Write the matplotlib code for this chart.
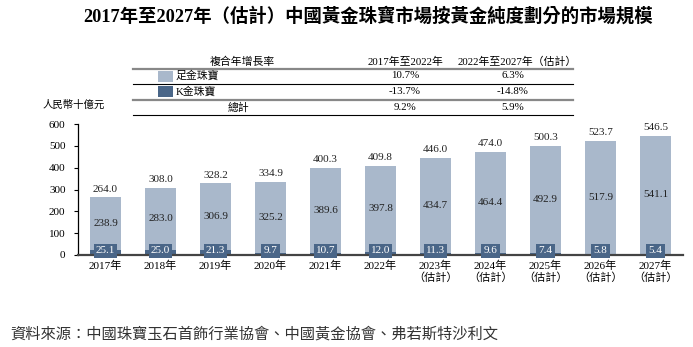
import matplotlib.pyplot as plt
from matplotlib.lines import Line2D
from matplotlib.patches import Rectangle
import numpy as np

plt.rcParams['font.family'] = ['Liberation Serif', 'Noto Sans CJK TC', 'DejaVu Sans']

years = ["2017年", "2018年", "2019年", "2020年", "2021年", "2022年",
         "2023年\n（估計）", "2024年\n（估計）", "2025年\n（估計）",
         "2026年\n（估計）", "2027年\n（估計）"]
pure_gold = [238.9, 283.0, 306.9, 325.2, 389.6, 397.8, 434.7, 464.4, 492.9, 517.9, 541.1]
k_gold = [25.1, 25.0, 21.3, 9.7, 10.7, 12.0, 11.3, 9.6, 7.4, 5.8, 5.4]
totals = [264.0, 308.0, 328.2, 334.9, 400.3, 409.8, 446.0, 474.0, 500.3, 523.7, 546.5]

cagr_header = ["複合年增長率", "2017年至2022年", "2022年至2027年（估計）"]
cagr_rows = ["足金珠寶", "K金珠寶", "總計"]
cagr_1722 = ["10.7%", "-13.7%", "9.2%"]
cagr_2227 = ["6.3%", "-14.8%", "5.9%"]

light = "#a9b8cb"
dark = "#4a6688"

W, H = 693, 347
fig = plt.figure(figsize=(W / 100, H / 100), dpi=100)


def fx(px):
    return px / W


def fy(py):
    return 1 - py / H


ax = fig.add_axes([fx(78), fy(255), fx(683 - 78), 131 / H])
x = np.arange(len(years))
bw = 0.56
ax.bar(x, k_gold, bw, color=dark, zorder=2)
ax.bar(x, pure_gold, bw, bottom=k_gold, color=light, zorder=2)

for i in x:
    ax.text(i, k_gold[i] + pure_gold[i] / 2, f"{pure_gold[i]:.1f}", ha="center", va="center",
            fontsize=8, color="#222222", zorder=3)
    ax.annotate(f"{totals[i]:.1f}", (i, totals[i]), xytext=(0, 6), textcoords="offset points",
                ha="center", va="center", fontsize=8, color="#222222")
    ax.annotate(f"{k_gold[i]:.1f}", (i, 0), xytext=(0, 3), textcoords="offset points",
                ha="center", va="center", fontsize=8, color="white", zorder=5,
                bbox=dict(boxstyle="square,pad=0.2", facecolor=dark, edgecolor="none"))

ax.set_xlim(-0.5, 10.5)
ax.set_ylim(0, 600)
ax.set_yticks(range(0, 601, 100))
ax.set_xticks(x)
ax.set_xticklabels(years, fontsize=8, linespacing=1.1)
ax.tick_params(axis="y", labelsize=8, length=3, width=0.8, pad=6)
ax.tick_params(axis="x", length=0, pad=4)
for s in ["top", "right"]:
    ax.spines[s].set_visible(False)
ax.spines["left"].set_linewidth(0.9)
ax.spines["bottom"].set_color("#444444")
ax.spines["bottom"].set_linewidth(1.6)
ax.spines["bottom"].set_zorder(4)

fig.text(fx(368), fy(16), "2017年至2027年（估計）中國黃金珠寶市場按黃金純度劃分的市場規模",
         ha="center", va="center", fontsize=13.2, fontweight="bold")
fig.text(fx(74), fy(105), "人民幣十億元", ha="center", va="center", fontsize=7.5)

# CAGR table
col_x = [242, 405, 517]
row_y = [76, 92, 108]
for cx, t in zip(col_x, cagr_header):
    fig.text(fx(cx), fy(62), t, ha="center", va="center", fontsize=7.8)
for yy, c, lw in [(69, "#888888", 1.6), (84, "black", 0.8), (100, "#888888", 1.6), (115, "black", 0.8)]:
    fig.add_artist(Line2D([fx(133), fx(573)], [fy(yy), fy(yy)], color=c, lw=lw))
for j, col in enumerate([light, dark]):
    fig.add_artist(Rectangle((fx(158), fy(row_y[j] + 5.5)), fx(15), 11 / H, facecolor=col, edgecolor="none"))
    fig.text(fx(176), fy(row_y[j]), cagr_rows[j], ha="left", va="center", fontsize=7.8)
fig.text(fx(239), fy(row_y[2]), cagr_rows[2], ha="center", va="center", fontsize=7.8)
for j in range(3):
    fig.text(fx(405), fy(row_y[j]), cagr_1722[j], ha="center", va="center", fontsize=7.8)
    fig.text(fx(513), fy(row_y[j]), cagr_2227[j], ha="center", va="center", fontsize=7.8)

fig.text(fx(10), fy(334), "資料來源：中國珠寶玉石首飾行業協會、中國黃金協會、弗若斯特沙利文",
         ha="left", va="center", fontsize=11, style="italic", color="#333333")

fig.savefig("out.png", dpi=100)
